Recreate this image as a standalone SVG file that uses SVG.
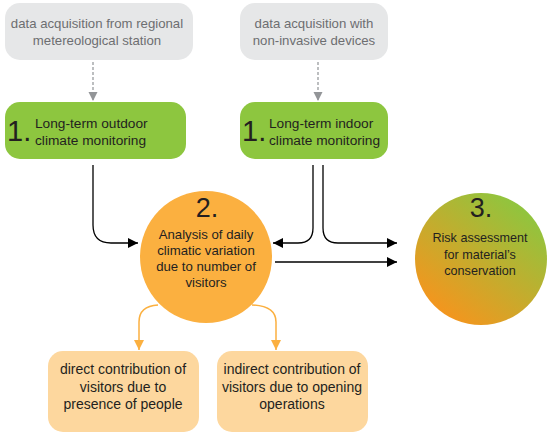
<svg xmlns="http://www.w3.org/2000/svg" width="550" height="437" viewBox="0 0 550 437">
<defs>
<style>
text{font-family:"Liberation Sans",Arial,sans-serif;}
.gtx{font-size:13.2px;fill:#6D6E71;text-anchor:middle;}
.dtx{font-size:13.7px;fill:#231F20;}
.ctx{font-size:13.2px;fill:#231F20;text-anchor:middle;}
.c3{font-size:12.6px;}
.btx{font-size:14px;fill:#231F20;text-anchor:middle;}
.num{font-size:29px;fill:#231F20;}
.cnum{font-size:27px;fill:#231F20;text-anchor:middle;}
.gray{fill:#E6E7E8;}
.green{fill:#8DC63F;}
.peach{fill:#FDD79E;}
.blk{fill:none;stroke:#000;stroke-width:1.3;}
.dot{fill:none;stroke:#A7A9AC;stroke-width:1.5;stroke-dasharray:3 2;}
.org{fill:none;stroke:#FBB040;stroke-width:1.5;}
</style>
<marker id="ab" viewBox="0 0 10 10" refX="10" refY="5" markerWidth="10" markerHeight="10" markerUnits="userSpaceOnUse" orient="auto"><path d="M0,0 L10,5 L0,10 Z" fill="#000"/></marker>
<marker id="ag" viewBox="0 0 10 10" refX="10" refY="5" markerWidth="9" markerHeight="11" markerUnits="userSpaceOnUse" orient="auto"><path d="M0,0 L10,5 L0,10 Z" fill="#939598"/></marker>
<marker id="ao" viewBox="0 0 10 10" refX="10" refY="5" markerWidth="10" markerHeight="11" markerUnits="userSpaceOnUse" orient="auto"><path d="M0,0 L10,5 L0,10 Z" fill="#FBB040"/></marker>
<linearGradient id="grad3" x1="0.2" y1="0.95" x2="0.85" y2="0.1">
<stop offset="0" stop-color="#F7941D"/>
<stop offset="1" stop-color="#8DC63F"/>
</linearGradient>
</defs>

<g id="connectors">
<path class="dot" d="M93,62 V101" marker-end="url(#ag)"/>
<path class="dot" d="M318,62 V101" marker-end="url(#ag)"/>
<path class="blk" d="M93,165 V225 Q93,243 111,243 H138" marker-end="url(#ab)"/>
<path class="blk" d="M313,165 V228 Q313,243 298,243 H273" marker-end="url(#ab)"/>
<path class="blk" d="M323,165 V228 Q323,243 338,243 H397" marker-end="url(#ab)"/>
<path class="blk" d="M275,262 H397" marker-end="url(#ab)"/>
<path class="org" d="M158,305 Q139,306 139,322 V350" marker-end="url(#ao)"/>
<path class="org" d="M252,305 Q276,306 276,322 V350" marker-end="url(#ao)"/>
</g>

<g id="src1">
<rect class="gray" x="5" y="3" width="188" height="57" rx="15"/>
<text class="gtx" x="97" y="28">data acquisition from regional</text>
<text class="gtx" x="97" y="45">metereological station</text>
</g>
<g id="src2">
<rect class="gray" x="240" y="3" width="148" height="57" rx="15"/>
<text class="gtx" x="314" y="28">data acquisition with</text>
<text class="gtx" x="314" y="45">non-invasive devices</text>
</g>

<g id="n1a">
<rect class="green" x="5" y="102" width="181" height="57" rx="15"/>
<text class="num" x="7" y="141">1.</text>
<text class="dtx" x="35" y="128">Long-term outdoor</text>
<text class="dtx" x="35" y="145">climate monitoring</text>
</g>
<g id="n1b">
<rect class="green" x="240" y="102" width="148" height="57" rx="15"/>
<text class="num" x="242" y="141">1.</text>
<text class="dtx" x="269" y="128">Long-term indoor</text>
<text class="dtx" x="269" y="145">climate monitoring</text>
</g>

<g id="n2">
<circle cx="206" cy="257" r="66" fill="#FBB040"/>
<text class="cnum" x="207" y="217">2.</text>
<text class="ctx" x="206" y="239">Analysis of daily</text>
<text class="ctx" x="206" y="255">climatic variation</text>
<text class="ctx" x="206" y="271">due to number of</text>
<text class="ctx" x="206" y="287">visitors</text>
</g>

<g id="n3">
<circle cx="481" cy="259" r="66" fill="url(#grad3)"/>
<text class="cnum" x="481" y="217">3.</text>
<text class="ctx c3" x="480" y="242">Risk assessment</text>
<text class="ctx c3" x="480" y="259">for material’s</text>
<text class="ctx c3" x="480" y="275">conservation</text>
</g>

<g id="n4a">
<rect class="peach" x="48" y="351" width="151" height="81" rx="15"/>
<text class="btx" x="123" y="374">direct contribution of</text>
<text class="btx" x="123" y="392">visitors due to</text>
<text class="btx" x="123" y="409">presence of people</text>
</g>
<g id="n4b">
<rect class="peach" x="217" y="351" width="151" height="81" rx="15"/>
<text class="btx" x="292" y="374">indirect contribution of</text>
<text class="btx" x="292" y="392">visitors due to opening</text>
<text class="btx" x="292" y="409">operations</text>
</g>
</svg>
